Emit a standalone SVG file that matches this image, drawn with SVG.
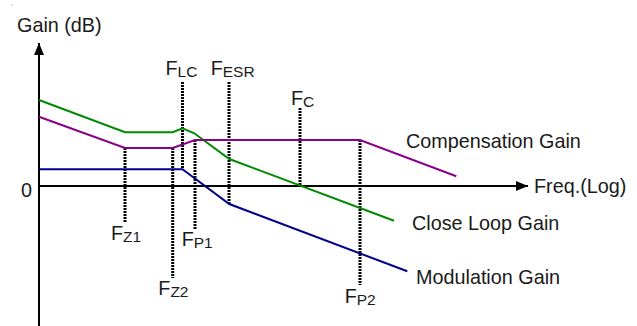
<svg xmlns="http://www.w3.org/2000/svg" width="637" height="326" viewBox="0 0 637 326">
<style>
text{font-family:"Liberation Sans",Arial,sans-serif;font-size:19.8px;fill:#1a1a1a}
.sub{font-size:15.5px}
.axis{stroke:#000;stroke-width:2;fill:none}
.curve{fill:none;stroke-width:2;stroke-linejoin:miter}
.dot{stroke:#000;stroke-width:3;stroke-dasharray:2 1;fill:none}
</style>
<defs>
<marker id="arr" markerWidth="12" markerHeight="10" refX="12" refY="5" orient="auto" markerUnits="userSpaceOnUse">
<path d="M0,0 L12,5 L0,10 Z" fill="#000"/>
</marker>
</defs>
<rect width="637" height="326" fill="#fff"/>
<rect x="11.5" y="4.5" width="1" height="1" fill="#888"/>
<g id="axes">
<line class="axis" x1="39" y1="326" x2="39" y2="43" marker-end="url(#arr)"/>
<line class="axis" x1="39" y1="186" x2="528" y2="186" marker-end="url(#arr)"/>
<text x="17" y="32">Gain (dB)</text>
<text x="21" y="197">0</text>
<text x="534" y="193">Freq.(Log)</text>
</g>
<g id="connectors">
<line class="dot" x1="125" y1="148" x2="125" y2="222"/>
<line class="dot" x1="172.7" y1="148" x2="172.7" y2="278"/>
<line class="dot" x1="182.5" y1="82" x2="182.5" y2="169"/>
<line class="dot" x1="195" y1="140" x2="195" y2="230"/>
<line class="dot" x1="229" y1="82" x2="229" y2="204"/>
<line class="dot" x1="300" y1="108" x2="300" y2="186"/>
<line class="dot" x1="360" y1="140" x2="360" y2="285"/>
</g>
<g id="close-loop-gain">
<polyline class="curve" stroke="#008a00" points="39,100 125,132.3 172.7,132.3 182.5,128.3 194.3,133.3 229.3,159 394,220.7"/>
<text x="412" y="230">Close Loop Gain</text>
</g>
<g id="compensation-gain">
<polyline class="curve" stroke="#8b008b" points="39,116.7 125,148 172.7,148 195,140 360,140 456.3,176.3"/>
<text x="406" y="148">Compensation Gain</text>
</g>
<g id="modulation-gain">
<polyline class="curve" stroke="#00008b" points="39,169.3 182.5,169.3 229.3,204 407.3,271.3"/>
<text x="416" y="284">Modulation Gain</text>
</g>
<g id="labels">
<text x="165.5" y="75">F<tspan class="sub" dy="1.5">LC</tspan></text>
<text x="210.7" y="75">F<tspan class="sub" dy="1.5">ESR</tspan></text>
<text x="291" y="105">F<tspan class="sub" dy="1.5">C</tspan></text>
<text x="111" y="240">F<tspan class="sub" dy="1.5">Z1</tspan></text>
<text x="181.7" y="246">F<tspan class="sub" dy="1.5">P1</tspan></text>
<text x="158.3" y="295">F<tspan class="sub" dy="1.5">Z2</tspan></text>
<text x="344.7" y="303">F<tspan class="sub" dy="1.5">P2</tspan></text>
</g>
</svg>
